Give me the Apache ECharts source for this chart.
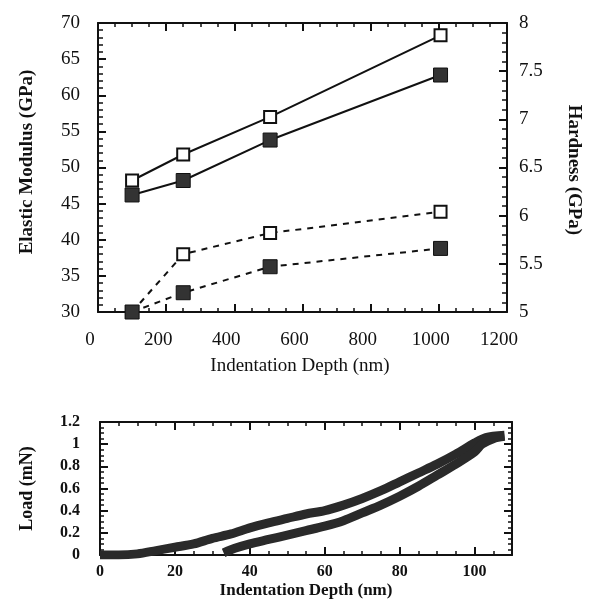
<!DOCTYPE html>
<html>
<head>
<meta charset="utf-8">
<script src="https://cdn.jsdelivr.net/npm/echarts@6/dist/echarts.min.js"></script>
<style>
  html, body { margin: 0; padding: 0; background: #fff; }
  #chart { width: 597px; height: 601px; }
</style>
</head>
<body>
<div id="chart"></div>
<script>
// top panel: modulus / hardness vs indentation depth
const depthTop = [100, 250, 505, 1005];
const modulusOpen = [48.2, 51.8, 57.0, 68.3];
const modulusFilled = [46.2, 48.2, 53.8, 62.8];
const hardnessOpen = [5.0, 5.6, 5.82, 6.04];
const hardnessFilled = [5.0, 5.2, 5.47, 5.66];

// bottom panel: load-displacement curve
const loadDepthUp = [0, 5, 10, 15, 20, 25, 30, 35, 40, 45, 50, 55, 60, 65, 70, 75, 80, 85, 90, 95, 100, 103, 108];
const loadUp = [0, 0, 0.01, 0.04, 0.07, 0.10, 0.15, 0.19, 0.245, 0.29, 0.33, 0.37, 0.40, 0.45, 0.51, 0.58, 0.66, 0.74, 0.82, 0.91, 1.01, 1.06, 1.08];
const loadDepthDown = [108, 105, 102, 100, 95, 90, 85, 80, 75, 70, 65, 60, 55, 50, 45, 40, 36, 33];
const loadDown = [1.07, 1.05, 1.0, 0.93, 0.82, 0.72, 0.62, 0.53, 0.45, 0.38, 0.31, 0.26, 0.22, 0.18, 0.14, 0.10, 0.06, 0.02];

const serif = 'Liberation Serif';
const ink = '#111';

function pairs (xs, ys) {
  return xs.map((x, i) => [x, ys[i]]);
}
function plain (v) {
  return String(v);
}

// frame axis helper: ticks inside, optional labels
function frameAxis (extra) {
  return Object.assign({
    axisLine: { show: true, onZero: false, lineStyle: { color: ink, width: 2 } },
    axisTick: { show: true, inside: true, length: 8, lineStyle: { color: ink, width: 2 } },
    minorTick: { show: true, length: 4, lineStyle: { color: ink, width: 1.5 } },
    splitLine: { show: false },
    axisLabel: { show: false }
  }, extra);
}

function title (text, x, y, rotation, weight) {
  return {
    type: 'text', silent: true, x: x, y: y, rotation: rotation,
    style: { text: text, x: 0, y: 0, align: 'center', verticalAlign: 'middle', fill: ink, fontFamily: serif, fontSize: 19, fontWeight: weight }
  };
}

const chart = echarts.init(document.getElementById('chart'));

const option = {
  animation: false,
  grid: [
    { left: 98, top: 23, right: 90, bottom: 289 },
    { left: 100, top: 422, right: 85, bottom: 46 }
  ],
  graphic: [
    title('Elastic Modulus (GPa)', 27, 162, Math.PI / 2, 'bold'),
    title('Hardness (GPa)', 574, 170, -Math.PI / 2, 'bold'),
    title('Indentation Depth (nm)', 300, 366, 0, 'normal')
  ],
  xAxis: [
    frameAxis({
      gridIndex: 0, type: 'value', min: 0, max: 1200, interval: 200, position: 'bottom',
      minorTick: { show: true, splitNumber: 4, length: 4, lineStyle: { color: ink, width: 1.5 } },
      axisLabel: { show: true, formatter: plain, color: ink, fontFamily: serif, fontSize: 19, margin: 19, padding: [0, 16, 0, 0] }
    }),
    frameAxis({
      gridIndex: 0, type: 'value', min: 0, max: 1200, interval: 200, position: 'top',
      minorTick: { show: true, splitNumber: 4, length: 4, lineStyle: { color: ink, width: 1.5 } }
    }),
    frameAxis({
      gridIndex: 1, type: 'value', min: 0, max: 110, interval: 20, position: 'bottom',
      minorTick: { show: true, splitNumber: 4, length: 4, lineStyle: { color: ink, width: 1.5 } },
      axisLabel: { show: true, color: ink, fontFamily: serif, fontSize: 16, fontWeight: 'bold', margin: 9, showMaxLabel: false },
      name: 'Indentation Depth (nm)', nameLocation: 'middle', nameGap: 27,
      nameTextStyle: { color: ink, fontFamily: serif, fontSize: 17, fontWeight: 'bold' }
    }),
    frameAxis({
      gridIndex: 1, type: 'value', min: 0, max: 110, interval: 20, position: 'top',
      minorTick: { show: true, splitNumber: 4, length: 4, lineStyle: { color: ink, width: 1.5 } }
    })
  ],
  yAxis: [
    frameAxis({
      gridIndex: 0, type: 'value', min: 30, max: 70, interval: 5, position: 'left',
      minorTick: { show: true, splitNumber: 5, length: 5, lineStyle: { color: ink, width: 1.5 } },
      axisLabel: { show: true, color: ink, fontFamily: serif, fontSize: 19, margin: 18, padding: [10, 0, 0, 0] }
    }),
    frameAxis({
      gridIndex: 0, type: 'value', min: 5, max: 8, interval: 0.5, position: 'right',
      minorTick: { show: true, splitNumber: 5, length: 5, lineStyle: { color: ink, width: 1.5 } },
      axisLabel: { show: true, color: ink, fontFamily: serif, fontSize: 19, margin: 12 }
    }),
    frameAxis({
      gridIndex: 1, type: 'value', min: 0, max: 1.2, interval: 0.2, position: 'left',
      minorTick: { show: true, splitNumber: 4, length: 4, lineStyle: { color: ink, width: 1.5 } },
      axisLabel: { show: true, color: ink, fontFamily: serif, fontSize: 16, fontWeight: 'bold', margin: 20 },
      name: 'Load (mN)', nameLocation: 'middle', nameGap: 64, nameRotate: 90,
      nameTextStyle: { color: ink, fontFamily: serif, fontSize: 18, fontWeight: 'bold' }
    }),
    frameAxis({
      gridIndex: 1, type: 'value', min: 0, max: 1.2, interval: 0.2, position: 'right',
      minorTick: { show: true, splitNumber: 4, length: 4, lineStyle: { color: ink, width: 1.5 } }
    })
  ],
  series: [
    {
      name: 'E open', type: 'line', xAxisIndex: 0, yAxisIndex: 0,
      data: pairs(depthTop, modulusOpen),
      symbol: 'rect', symbolSize: 12,
      itemStyle: { color: '#fff', borderColor: ink, borderWidth: 2 },
      lineStyle: { color: ink, width: 2 },
      z: 3
    },
    {
      name: 'H open', type: 'line', xAxisIndex: 0, yAxisIndex: 1,
      data: pairs(depthTop, hardnessOpen),
      symbol: 'rect', symbolSize: 12,
      itemStyle: { color: '#fff', borderColor: ink, borderWidth: 2 },
      lineStyle: { color: ink, width: 2, type: [6, 6] },
      z: 3
    },
    {
      name: 'E filled', type: 'line', xAxisIndex: 0, yAxisIndex: 0,
      data: pairs(depthTop, modulusFilled),
      symbol: 'rect', symbolSize: 14,
      itemStyle: { color: '#333', borderColor: ink, borderWidth: 1 },
      lineStyle: { color: ink, width: 2 },
      z: 4
    },
    {
      name: 'H filled', type: 'line', xAxisIndex: 0, yAxisIndex: 1,
      data: pairs(depthTop, hardnessFilled),
      symbol: 'rect', symbolSize: 14,
      itemStyle: { color: '#333', borderColor: ink, borderWidth: 1 },
      lineStyle: { color: ink, width: 2, type: [6, 6] },
      z: 4
    },
    {
      name: 'loading', type: 'line', xAxisIndex: 2, yAxisIndex: 2,
      data: pairs(loadDepthUp, loadUp),
      symbol: 'none', smooth: 0.3,
      lineStyle: { color: '#2a2a2a', width: 9 }
    },
    {
      name: 'unloading', type: 'line', xAxisIndex: 2, yAxisIndex: 2,
      data: pairs(loadDepthDown, loadDown),
      symbol: 'none', smooth: 0.3,
      lineStyle: { color: '#2a2a2a', width: 9 }
    }
  ]
};

chart.setOption(option);
</script>
</body>
</html>
